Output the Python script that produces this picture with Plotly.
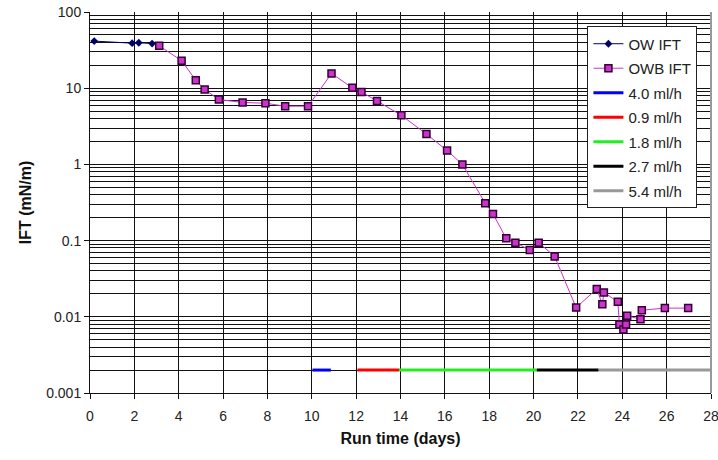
import plotly.graph_objects as go

# Oil/water interfacial tension, run time in days
ow_days = [0.19, 1.9, 2.2, 2.8]
ow_ift = [41.5, 39.0, 39.5, 38.5]

owb_days = [3.12, 4.13, 4.77, 5.17, 5.81, 6.88, 7.91, 8.80, 9.83, 10.89,
            11.83, 12.24, 12.94, 14.04, 15.17, 16.10, 16.79, 17.82, 18.17,
            18.77, 19.18, 19.83, 20.23, 20.95, 21.92, 22.85, 23.10, 23.17,
            23.80, 23.87, 24.05, 24.17, 24.22, 24.82, 24.88, 25.92, 26.97]
owb_ift = [36.0, 23.0, 12.7, 9.6, 7.1, 6.5, 6.35, 5.8, 5.8, 15.6,
           10.1, 8.9, 6.8, 4.4, 2.5, 1.52, 1.0, 0.31, 0.224,
           0.107, 0.094, 0.075, 0.094, 0.062, 0.0132, 0.0232, 0.0146, 0.0209,
           0.0157, 0.0079, 0.0068, 0.0079, 0.0103, 0.0093, 0.0122, 0.013, 0.013]

# Injection rate periods, drawn as a bar along the bottom of the chart
rate_labels = ["4.0 ml/h", "0.9 ml/h", "1.8 ml/h", "2.7 ml/h", "5.4 ml/h"]
rate_start = [10.03, 12.06, 13.93, 20.15, 22.93]
rate_end = [10.86, 13.93, 20.15, 22.93, 28.0]
rate_colors = ["#0000FF", "#FF0000", "#22EE22", "#000000", "#999999"]
rate_level = 0.002

x_ticks = list(range(0, 29, 2))
y_ticks = [0.001, 0.01, 0.1, 1, 10, 100]
y_tick_text = ["0.001", "0.01", "0.1", "1", "10", "100"]
y_minor = [m * 10 ** e for e in range(-3, 2) for m in range(2, 10)]

font_family = "Liberation Sans, Arial, sans-serif"

fig = go.Figure()

fig.add_trace(go.Scatter(
    x=ow_days, y=ow_ift, name="OW IFT", mode="lines+markers",
    line=dict(color="#000066", width=1),
    marker=dict(symbol="diamond", size=6, color="#000066"),
    legendgroup="a",
))
fig.add_trace(go.Scatter(
    x=owb_days, y=owb_ift, name="OWB IFT", mode="lines+markers",
    line=dict(color="#CC33CC", width=1),
    marker=dict(symbol="square", size=7, color="#CC33CC",
                line=dict(color="#330033", width=1.5)),
    legendgroup="b",
))
for i, (lab, x0, x1, col) in enumerate(zip(rate_labels, rate_start, rate_end, rate_colors)):
    fig.add_trace(go.Scatter(
        x=[x0, x1], y=[rate_level, rate_level], name=lab, mode="lines",
        line=dict(color=col, width=3), legendgroup=f"r{i}",
    ))

fig.update_layout(
    width=718, height=460,
    margin=dict(l=90, r=7, t=12, b=67),
    paper_bgcolor="white", plot_bgcolor="white",
    font=dict(family=font_family, size=14, color="#222222"),
    legend=dict(
        x=0.801, y=0.962, xanchor="left", yanchor="top",
        bgcolor="white", bordercolor="#222222", borderwidth=1,
        font=dict(size=15, color="#222222"),
        traceorder="grouped", tracegroupgap=2,
        itemwidth=30,
    ),
    showlegend=True,
)

fig.update_xaxes(
    range=[0, 28], tickvals=x_ticks,
    showgrid=True, gridcolor="#111111", gridwidth=1,
    showline=True, linecolor="#111111", linewidth=1,
    ticks="outside", ticklen=5, tickcolor="#111111",
    ticklabeloverflow="allow", automargin=False,
    ticklabelstandoff=5,
    tickfont=dict(size=14),
    zeroline=False,
    title=dict(text="<b>Run time (days)</b>", font=dict(size=16, color="#111111"), standoff=10),
)
fig.update_yaxes(
    type="log", range=[-3, 2],
    tickvals=y_ticks, ticktext=y_tick_text,
    showgrid=True, gridcolor="#111111", gridwidth=1,
    minor=dict(tickmode="array", tickvals=y_minor, showgrid=True,
               gridcolor="#111111", gridwidth=1, ticks=""),
    showline=True, linecolor="#111111", linewidth=1,
    ticks="outside", ticklen=5, tickcolor="#111111",
    tickfont=dict(size=14), automargin=False,
    zeroline=False,
    title=dict(text="<b>IFT (mN/m)</b>", font=dict(size=16, color="#111111"), standoff=10),
)

# Grey right-hand border of the plotting area
fig.add_shape(type="line", xref="paper", yref="paper", x0=1, x1=1, y0=0, y1=1,
              line=dict(color="#999999", width=2))

fig.write_html("out.html")
